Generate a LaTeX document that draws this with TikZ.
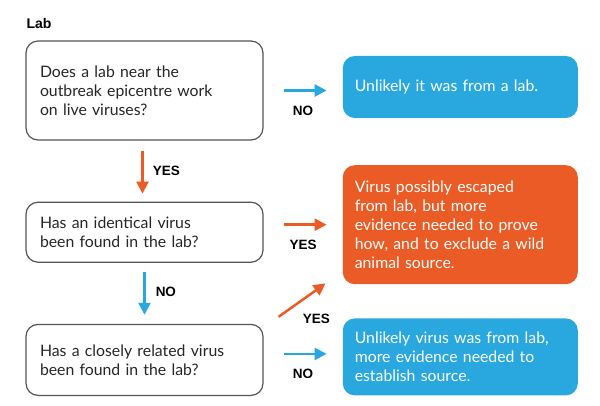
\documentclass[tikz,border=0pt]{standalone}
\usepackage{fontspec}
\setmainfont{Lato}
\newfontfamily\labelfont{Liberation Sans}
\usetikzlibrary{positioning,arrows.meta}
\definecolor{labblue}{RGB}{41,168,224}
\definecolor{laborange}{RGB}{234,91,37}
\definecolor{boxgrey}{RGB}{85,85,85}

\begin{document}
\begin{tikzpicture}[x=1pt,y=-1pt]
	\tikzstyle{question}=[draw=boxgrey,line width=1.2pt,rounded corners=12pt,
	text width=209pt,inner xsep=14pt,inner ysep=0pt,align=left,
	text=black!85,font=\fontsize{15.8}{19}\selectfont]
	\tikzstyle{answer}=[rounded corners=12pt,text width=211pt,inner xsep=12pt,
	inner ysep=0pt,align=left,text=white,font=\fontsize{15.8}{19}\selectfont]
	\tikzstyle{yesarrow}=[draw=laborange,line width=2.5pt,-{Triangle[length=12pt,width=12pt]}]
	\tikzstyle{noarrow}=[draw=labblue,line width=2.5pt,-{Triangle[length=12pt,width=12pt]}]
	\tikzstyle{answerlabel}=[inner sep=0pt,font=\labelfont\bfseries\fontsize{13.5}{13.5}\selectfont]
	\useasboundingbox (0,0) rectangle (600,406);
	% questions
	\node[question,minimum height=99pt] (live) at (144.5,90.5)
		{Does a lab near the\\outbreak epicentre work\\on live viruses?};
	\node[question,minimum height=60pt,below=61pt of live] (identical)
		{Has an identical virus\\been found in the lab?};
	\node[question,minimum height=71pt,below=61pt of identical] (related)
		{Has a closely related virus\\been found in the lab?};
	\node[inner sep=0pt,anchor=base west,font=\labelfont\bfseries\fontsize{14}{14}\selectfont]
		(lab) at ([shift={(1pt,12pt)}]live.north west) {Lab};
	% answers
	\node[answer,fill=labblue,minimum height=62pt,right=79pt of live,yshift=3.5pt] (notlab)
		{Unlikely it was from a lab.};
	\node[answer,fill=laborange,minimum height=119pt,right=79pt of identical,yshift=7.5pt] (escaped)
		{Virus possibly escaped\\from lab, but more\\evidence needed to prove\\how, and to exclude a wild\\animal source.};
	\node[answer,fill=labblue,minimum height=77pt,right=79pt of related,yshift=3pt] (source)
		{Unlikely virus was from lab,\\more evidence needed to\\establish source.};
	% arrows
	\draw[yesarrow,shorten <=10pt,shorten >=8pt] ([xshift=-2pt]live.south) -- ([xshift=-2pt]identical.north)
		node[midway,answerlabel,anchor=west,xshift=9pt] (yes1) {YES};
	\draw[noarrow,shorten <=9pt,shorten >=9pt] (identical.south) -- (related.north)
		node[midway,answerlabel,anchor=west,xshift=10pt,yshift=1.5pt] (no2) {NO};
	\draw[noarrow,shorten <=20pt,shorten >=16pt] (live.east) -- (live.east -| notlab.west)
		node[midway,answerlabel,below=14pt] (no1) {NO};
	\draw[yesarrow,shorten <=20pt,shorten >=16pt] (identical.east |- escaped.west) -- (escaped.west)
		node[midway,answerlabel,below=14pt] (yes2) {YES};
	\draw[yesarrow] ([shift={(15pt,7pt)}]related.north east) -- ([shift={(-17pt,1pt)}]escaped.south west);
	\node[answerlabel,anchor=west] (yes3) at ([shift={(39pt,5pt)}]related.north east) {YES};
	\draw[noarrow,shorten <=20pt,shorten >=16pt] ([yshift=3pt]related.east |- source.west) -- ([yshift=3pt]source.west)
		node[midway,answerlabel,below=14pt] (no3) {NO};
\end{tikzpicture}
\end{document}
